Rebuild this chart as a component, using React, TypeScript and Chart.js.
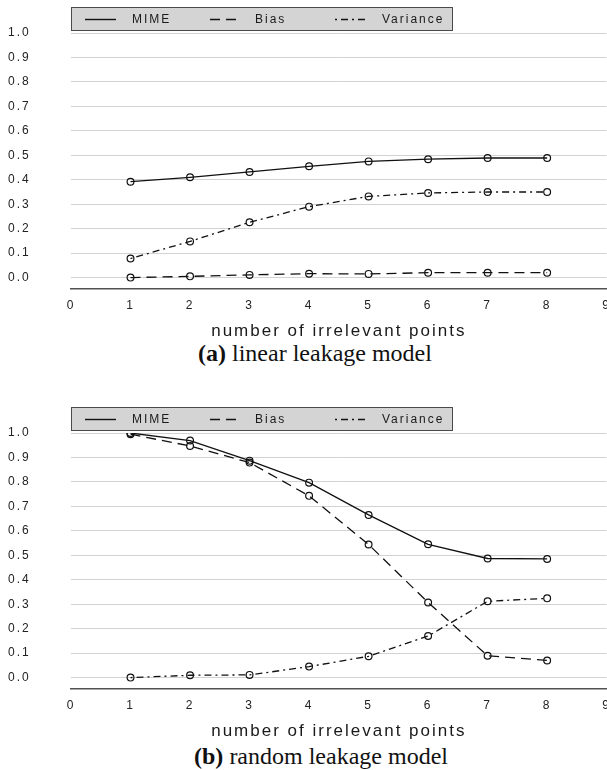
import React, { useEffect, useRef } from 'react';
import { Chart, registerables } from 'chart.js';

Chart.register(...registerables);

// ---------- data ----------
const xValues = [1, 2, 3, 4, 5, 6, 7, 8];
const xTicks = [0, 1, 2, 3, 4, 5, 6, 7, 8, 9];
const yTicks = [0.0, 0.1, 0.2, 0.3, 0.4, 0.5, 0.6, 0.7, 0.8, 0.9, 1.0];
const seriesNames = ['MIME', 'Bias', 'Variance'];

const linearMime = [0.392, 0.41, 0.432, 0.455, 0.475, 0.484, 0.489, 0.489];
const linearBias = [0.0, 0.005, 0.011, 0.016, 0.015, 0.02, 0.02, 0.02];
const linearVariance = [0.078, 0.148, 0.226, 0.29, 0.332, 0.346, 0.35, 0.35];

const randomMime = [1.0, 0.969, 0.887, 0.797, 0.665, 0.545, 0.487, 0.485];
const randomBias = [0.995, 0.947, 0.879, 0.743, 0.544, 0.307, 0.089, 0.07];
const randomVariance = [0.0, 0.0095, 0.011, 0.045, 0.087, 0.17, 0.312, 0.324];

const xTitle = 'number of irrelevant points';

// ---------- styling ----------
const SANS = '"Liberation Sans", Arial, sans-serif';
const SERIF = '"Liberation Serif", "Times New Roman", serif';
const LS = '2px';
const dashes: number[][] = [[], [10, 6], [2, 4, 7, 4]];

const spacingPlugin = {
  id: 'spacing',
  beforeLayout(chart: any) {
    chart.ctx.letterSpacing = LS;
  },
  beforeDraw(chart: any) {
    chart.ctx.letterSpacing = LS;
  },
};

const boxLegendPlugin = {
  id: 'boxLegend',
  afterDraw(chart: any) {
    const ctx = chart.ctx as CanvasRenderingContext2D;
    const left = chart.chartArea.left;
    const top = 7;
    const w = 382;
    const h = 24;
    ctx.save();
    (ctx as any).letterSpacing = '2px';
    ctx.fillStyle = '#d4d4d4';
    ctx.fillRect(left, top, w, h);
    ctx.strokeStyle = '#4a4a4a';
    ctx.lineWidth = 1;
    ctx.strokeRect(left + 0.5, top + 0.5, w - 1, h - 1);
    const items = [
      { x0: 85, x1: 116, tx: 132 },
      { x0: 210, x1: 238, tx: 255 },
      { x0: 335, x1: 367, tx: 382 },
    ];
    const cy = top + h / 2 + 0.5;
    chart.data.datasets.forEach((ds: any, i: number) => {
      const it = items[i];
      ctx.beginPath();
      ctx.setLineDash(ds.borderDash || []);
      ctx.strokeStyle = '#111';
      ctx.lineWidth = 1.4;
      ctx.moveTo(it.x0, cy);
      ctx.lineTo(it.x1, cy);
      ctx.stroke();
      ctx.setLineDash([]);
      ctx.fillStyle = '#1a1a1a';
      ctx.font = `12px ${SANS}`;
      ctx.textBaseline = 'middle';
      ctx.textAlign = 'left';
      ctx.fillText(ds.label, it.tx, cy);
    });
    ctx.restore();
  },
};

function makeConfig(series: number[][]): any {
  return {
    type: 'line',
    data: {
      datasets: series.map((vals, i) => ({
        label: seriesNames[i],
        data: xValues.map((x, j) => ({ x, y: vals[j] })),
        borderColor: '#111',
        borderWidth: 1.3,
        borderDash: dashes[i],
        pointRadius: 3.4,
        pointBorderWidth: 1.2,
        pointBorderColor: '#111',
        pointBackgroundColor: 'rgba(0,0,0,0)',
        tension: 0,
        fill: false,
      })),
    },
    options: {
      animation: false,
      responsive: false,
      events: [],
      layout: { padding: { top: 33, left: 8, right: 0, bottom: 0 } },
      plugins: {
        legend: { display: false },
        tooltip: { enabled: false },
      },
      scales: {
        x: {
          type: 'linear',
          min: 0,
          max: 9,
          afterBuildTicks: (scale: any) => {
            scale.ticks = xTicks.map((v) => ({ value: v }));
          },
          ticks: {
            padding: 10,
            color: '#222',
            font: { family: SANS, size: 12 },
            callback: (v: any) => String(v),
          },
          grid: { display: false, drawTicks: false },
          border: { display: true, color: '#505050', width: 1.6 },
          title: {
            display: true,
            text: xTitle,
            color: '#1a1a1a',
            font: { family: SANS, size: 17, lineHeight: 1 },
            padding: { top: 0, bottom: 0 },
          },
        },
        y: {
          type: 'linear',
          min: -0.045,
          max: 1.0,
          afterBuildTicks: (scale: any) => {
            scale.ticks = yTicks.map((v) => ({ value: v }));
          },
          afterFit: (scale: any) => {
            scale.width = 63;
          },
          ticks: {
            crossAlign: 'far',
            color: '#222',
            font: { family: SANS, size: 12 },
            callback: (v: any) => Number(v).toFixed(1),
          },
          grid: { color: '#d2d2d2', lineWidth: 1, drawTicks: false },
          border: { display: false },
        },
      },
    },
    plugins: [spacingPlugin, boxLegendPlugin],
  };
}

function Panel({ series, top, captionBold, caption, captionCenter, captionTop }: any) {
  const ref = useRef<HTMLCanvasElement | null>(null);
  useEffect(() => {
    if (!ref.current) return;
    const chart = new Chart(ref.current, makeConfig(series));
    return () => chart.destroy();
  }, [series]);
  return (
    <div style={{ position: 'absolute', left: 0, top, width: 607, height: 370 }}>
      <canvas ref={ref} width={621} height={340} style={{ display: 'block', width: 621, height: 340 }} />
      <div
        style={{
          position: 'absolute',
          top: captionTop,
          left: captionCenter - 300,
          width: 600,
          textAlign: 'center',
          fontFamily: SERIF,
          fontSize: 24,
          lineHeight: '24px',
          color: '#111',
          whiteSpace: 'nowrap',
        }}
      >
        <b>{captionBold}</b> {caption}
      </div>
    </div>
  );
}

export default function App() {
  return (
    <div
      style={{
        position: 'absolute',
        left: 0,
        top: 0,
        width: 607,
        height: 770,
        overflow: 'hidden',
        background: '#fff',
      }}
    >
      <Panel
        series={[linearMime, linearBias, linearVariance]}
        top={0}
        captionBold="(a)"
        caption="linear leakage model"
        captionCenter={315}
        captionTop={341}
      />
      <Panel
        series={[randomMime, randomBias, randomVariance]}
        top={400}
        captionBold="(b)"
        caption="random leakage model"
        captionCenter={321}
        captionTop={344}
      />
    </div>
  );
}
